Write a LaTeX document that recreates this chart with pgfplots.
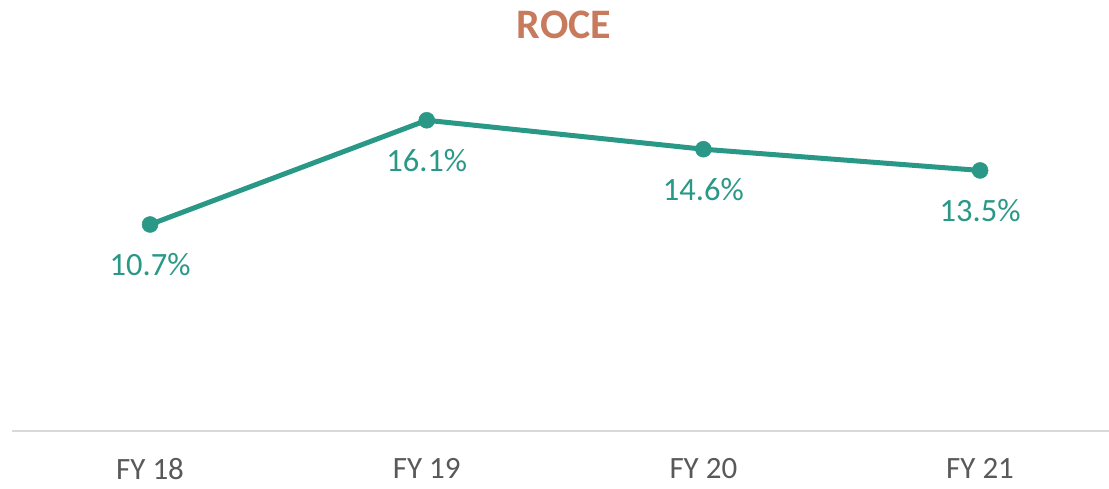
\documentclass[border=0pt]{standalone}
\usepackage{fontspec}
\setmainfont{Carlito}
\usepackage{pgfplots}
\pgfplotsset{compat=1.18}
\definecolor{teal1}{RGB}{42,152,135}
\definecolor{titleC}{RGB}{200,122,92}
\definecolor{tickC}{RGB}{89,89,89}
\definecolor{baseC}{RGB}{217,217,217}
\begin{document}
\begin{tikzpicture}[x=1pt,y=1pt]
\useasboundingbox (0,0) rectangle (1109,488);
\node[font=\fontsize{42}{46}\selectfont\bfseries, text=titleC] at (564,463) {ROCE};
\begin{axis}[
  at={(12pt,57pt)}, anchor=south west,
  scale only axis, width=1097pt, height=386pt,
  xmin=-0.499, xmax=3.466, ymin=0, ymax=20,
  axis x line=bottom, hide y axis,
  axis line style={baseC, line width=1.5pt, -},
  xtick=data, xticklabels={FY 18,FY 19,FY 20,FY 21},
  major tick length=0pt,
  xticklabel style={font=\fontsize{31}{34}\selectfont, text=tickC, yshift=-24pt},
  /pgf/number format/assume math mode=true,
  nodes near coords={\pgfmathprintnumber[fixed,precision=1,fixed zerofill]{\pgfplotspointmeta}\%},
  every node near coord/.style={font=\fontsize{32.5}{36}\selectfont, text=teal1, anchor=center, yshift=-40pt},
  clip=false,
]
\addplot[teal1, line width=5pt, mark=*, mark size=8pt, mark options={fill=teal1, draw=teal1, line width=0.5pt}]
  coordinates {(0,10.7) (1,16.1) (2,14.6) (3,13.5)};
\end{axis}
\end{tikzpicture}
\end{document}
